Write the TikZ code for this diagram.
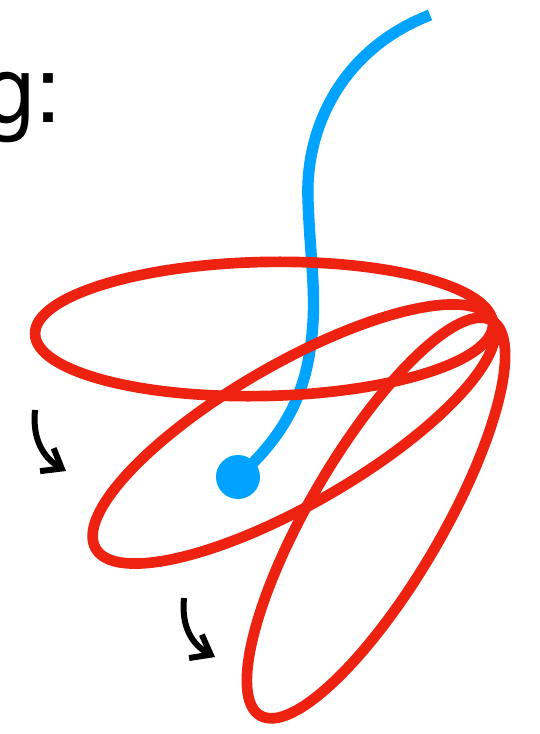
\documentclass[tikz,border=0pt]{standalone}
\usepackage{fontspec}
\newfontfamily\gfont{TeX Gyre Heros}
\usetikzlibrary{arrows.meta}
\definecolor{loopred}{RGB}{238,34,17}
\definecolor{pathblue}{RGB}{0,163,255}
\tikzset{
  redloop/.style={draw=loopred,line width=8pt},
  turnarrow/.style={black,line width=4.5pt,-{Straight Barb[length=13pt,width=20pt]}}
}
\begin{document}
\begin{tikzpicture}[x=0.75pt,y=-0.75pt]
	\useasboundingbox (0,0) rectangle (539,734);
	\clip (0,0) rectangle (539,734);
	\node[anchor=base east,inner sep=0pt,font=\gfont\fontsize{70}{70}\selectfont] (label) at (62,123) {g:};
	% blue path ending in a dot
	\node[circle,fill=pathblue,inner sep=0pt,minimum size=33pt] (dot) at (238,477) {};
	\coordinate (start) at (430,15);
	\draw[pathblue,line width=8.5pt] (start) .. controls (340,50) and (305,130) .. (308,200)
		.. controls (310,260) and (318,300) .. (310,350)
		.. controls (303,400) and (280,440) .. (dot.center);
	% the three loops, turned about the common tip
	\draw[redloop,rotate around={1.25:(264,329)}] (264,329) ellipse (229 and 67);
	\draw[redloop,rotate around={30:(294,434)}] (294,434) ellipse (229 and 70);
	\draw[redloop,rotate around={59.6:(376,518)}] (376,518) ellipse (229 and 66);
	% turning arrows
	\coordinate (a1) at (35,410);
	\coordinate (b1) at (66,471);
	\coordinate (a2) at (184,598);
	\coordinate (b2) at (215,657);
	\draw[turnarrow] (a1) .. controls (32,440) and (44,458) .. (b1);
	\draw[turnarrow] (a2) .. controls (181,628) and (193,645) .. (b2);
\end{tikzpicture}
\end{document}
